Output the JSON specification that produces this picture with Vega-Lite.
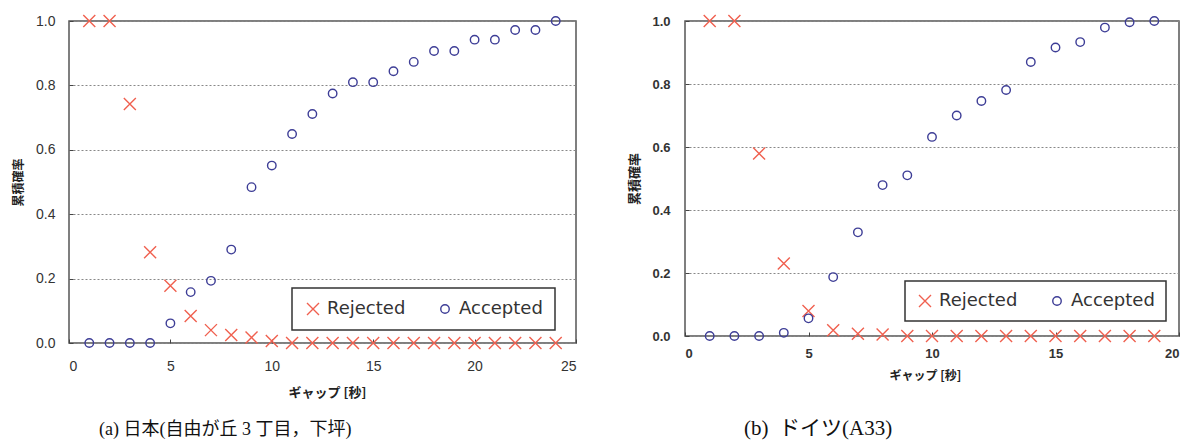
{
  "$schema": "https://vega.github.io/schema/vega-lite/v6.json",
  "padding": {"left": 11, "top": 11, "right": 0, "bottom": 0},
  "background": "white",
  "spacing": 50,
  "datasets": {
    "japan": [
      {"gap": 1, "prob": 1.0, "type": "Rejected"},
      {"gap": 2, "prob": 1.0, "type": "Rejected"},
      {"gap": 3, "prob": 0.742, "type": "Rejected"},
      {"gap": 4, "prob": 0.282, "type": "Rejected"},
      {"gap": 5, "prob": 0.178, "type": "Rejected"},
      {"gap": 6, "prob": 0.084, "type": "Rejected"},
      {"gap": 7, "prob": 0.040, "type": "Rejected"},
      {"gap": 8, "prob": 0.025, "type": "Rejected"},
      {"gap": 9, "prob": 0.017, "type": "Rejected"},
      {"gap": 10, "prob": 0.006, "type": "Rejected"},
      {"gap": 11, "prob": 0, "type": "Rejected"},
      {"gap": 12, "prob": 0, "type": "Rejected"},
      {"gap": 13, "prob": 0, "type": "Rejected"},
      {"gap": 14, "prob": 0, "type": "Rejected"},
      {"gap": 15, "prob": 0, "type": "Rejected"},
      {"gap": 16, "prob": 0, "type": "Rejected"},
      {"gap": 17, "prob": 0, "type": "Rejected"},
      {"gap": 18, "prob": 0, "type": "Rejected"},
      {"gap": 19, "prob": 0, "type": "Rejected"},
      {"gap": 20, "prob": 0, "type": "Rejected"},
      {"gap": 21, "prob": 0, "type": "Rejected"},
      {"gap": 22, "prob": 0, "type": "Rejected"},
      {"gap": 23, "prob": 0, "type": "Rejected"},
      {"gap": 24, "prob": 0, "type": "Rejected"},
      {"gap": 1, "prob": 0, "type": "Accepted"},
      {"gap": 2, "prob": 0, "type": "Accepted"},
      {"gap": 3, "prob": 0, "type": "Accepted"},
      {"gap": 4, "prob": 0, "type": "Accepted"},
      {"gap": 5, "prob": 0.061, "type": "Accepted"},
      {"gap": 6, "prob": 0.158, "type": "Accepted"},
      {"gap": 7, "prob": 0.193, "type": "Accepted"},
      {"gap": 8, "prob": 0.290, "type": "Accepted"},
      {"gap": 9, "prob": 0.484, "type": "Accepted"},
      {"gap": 10, "prob": 0.551, "type": "Accepted"},
      {"gap": 11, "prob": 0.649, "type": "Accepted"},
      {"gap": 12, "prob": 0.711, "type": "Accepted"},
      {"gap": 13, "prob": 0.775, "type": "Accepted"},
      {"gap": 14, "prob": 0.810, "type": "Accepted"},
      {"gap": 15, "prob": 0.810, "type": "Accepted"},
      {"gap": 16, "prob": 0.844, "type": "Accepted"},
      {"gap": 17, "prob": 0.873, "type": "Accepted"},
      {"gap": 18, "prob": 0.907, "type": "Accepted"},
      {"gap": 19, "prob": 0.907, "type": "Accepted"},
      {"gap": 20, "prob": 0.942, "type": "Accepted"},
      {"gap": 21, "prob": 0.942, "type": "Accepted"},
      {"gap": 22, "prob": 0.972, "type": "Accepted"},
      {"gap": 23, "prob": 0.972, "type": "Accepted"},
      {"gap": 24, "prob": 1.0, "type": "Accepted"}
    ],
    "germany": [
      {"gap": 1, "prob": 1.0, "type": "Rejected"},
      {"gap": 2, "prob": 1.0, "type": "Rejected"},
      {"gap": 3, "prob": 0.579, "type": "Rejected"},
      {"gap": 4, "prob": 0.230, "type": "Rejected"},
      {"gap": 5, "prob": 0.079, "type": "Rejected"},
      {"gap": 6, "prob": 0.018, "type": "Rejected"},
      {"gap": 7, "prob": 0.007, "type": "Rejected"},
      {"gap": 8, "prob": 0.005, "type": "Rejected"},
      {"gap": 9, "prob": 0, "type": "Rejected"},
      {"gap": 10, "prob": 0, "type": "Rejected"},
      {"gap": 11, "prob": 0, "type": "Rejected"},
      {"gap": 12, "prob": 0, "type": "Rejected"},
      {"gap": 13, "prob": 0, "type": "Rejected"},
      {"gap": 14, "prob": 0, "type": "Rejected"},
      {"gap": 15, "prob": 0, "type": "Rejected"},
      {"gap": 16, "prob": 0, "type": "Rejected"},
      {"gap": 17, "prob": 0, "type": "Rejected"},
      {"gap": 18, "prob": 0, "type": "Rejected"},
      {"gap": 19, "prob": 0, "type": "Rejected"},
      {"gap": 1, "prob": 0, "type": "Accepted"},
      {"gap": 2, "prob": 0, "type": "Accepted"},
      {"gap": 3, "prob": 0, "type": "Accepted"},
      {"gap": 4, "prob": 0.010, "type": "Accepted"},
      {"gap": 5, "prob": 0.056, "type": "Accepted"},
      {"gap": 6, "prob": 0.187, "type": "Accepted"},
      {"gap": 7, "prob": 0.329, "type": "Accepted"},
      {"gap": 8, "prob": 0.479, "type": "Accepted"},
      {"gap": 9, "prob": 0.510, "type": "Accepted"},
      {"gap": 10, "prob": 0.632, "type": "Accepted"},
      {"gap": 11, "prob": 0.700, "type": "Accepted"},
      {"gap": 12, "prob": 0.746, "type": "Accepted"},
      {"gap": 13, "prob": 0.781, "type": "Accepted"},
      {"gap": 14, "prob": 0.870, "type": "Accepted"},
      {"gap": 15, "prob": 0.916, "type": "Accepted"},
      {"gap": 16, "prob": 0.933, "type": "Accepted"},
      {"gap": 17, "prob": 0.979, "type": "Accepted"},
      {"gap": 18, "prob": 0.996, "type": "Accepted"},
      {"gap": 19, "prob": 1.0, "type": "Accepted"}
    ]
  },
  "hconcat": [
    {
      "width": 507,
      "height": 322,
      "data": {"name": "japan"},
      "title": {"text": "(a)  日本(自由が丘 3 丁目，下坪)", "orient": "bottom", "anchor": "start", "frame": "group", "dx": 30, "offset": 22, "font": "Liberation Serif, Noto Sans CJK JP", "fontSize": 18, "fontWeight": "normal", "color": "#111"},
      "mark": {"type": "point", "filled": false, "strokeWidth": 1.4, "opacity": 1},
      "encoding": {
        "x": {"field": "gap", "type": "quantitative", "scale": {"domain": [0, 25], "nice": false},
              "axis": {"values": [0, 5, 10, 15, 20, 25], "title": "ギャップ [秒]", "titleX": 258, "titlePadding": 13, "titleFontSize": 13, "labelFontSize": 14, "labelPadding": 20, "grid": false}},
        "y": {"field": "prob", "type": "quantitative", "scale": {"domain": [0, 1], "nice": false},
              "axis": {"values": [0, 0.2, 0.4, 0.6, 0.8, 1.0], "format": ".1f", "title": "累積確率", "titleFontSize": 12, "labelFontSize": 14, "labelPadding": 18, "titlePadding": 10}},
        "color": {"field": "type", "type": "nominal", "scale": {"domain": ["Rejected", "Accepted"], "range": ["#f0604f", "#3d3d96"]},
                  "legend": {"orient": "none", "legendX": 223, "legendY": 267, "direction": "horizontal", "title": null, "columnPadding": 30, "padding": 12,
                             "encode": {"symbols": {"update": {"size": {"signal": "datum.value === 'Accepted' ? 25 : 144"}}}}}},
        "shape": {"field": "type", "type": "nominal", "scale": {"domain": ["Rejected", "Accepted"], "range": ["M-1,-1L1,1M1,-1L-1,1", "circle"]}},
        "size": {"field": "type", "type": "nominal", "scale": {"domain": ["Rejected", "Accepted"], "range": [144, 72]}, "legend": null}
      }
    },
    {
      "width": 494,
      "height": 315,
      "data": {"name": "germany"},
      "title": {"text": "(b)\u00a0\u00a0ドイツ(A33)", "orient": "bottom", "anchor": "start", "frame": "group", "dx": 59, "offset": 37, "font": "Liberation Serif, Noto Sans CJK JP", "fontSize": 21, "fontWeight": "normal", "color": "#111"},
      "mark": {"type": "point", "filled": false, "strokeWidth": 1.4, "opacity": 1},
      "encoding": {
        "x": {"field": "gap", "type": "quantitative", "scale": {"domain": [0, 20], "nice": false},
              "axis": {"values": [0, 5, 10, 15, 20], "title": "ギャップ [秒]", "titleX": 240, "titlePadding": 10, "titleFontSize": 12, "labelFontSize": 13, "labelFontWeight": "bold", "labelPadding": 15, "grid": false}},
        "y": {"field": "prob", "type": "quantitative", "scale": {"domain": [0, 1], "nice": false},
              "axis": {"values": [0, 0.2, 0.4, 0.6, 0.8, 1.0], "format": ".1f", "title": "累積確率", "titleFontSize": 13, "labelFontSize": 13, "labelFontWeight": "bold", "labelPadding": 19, "titlePadding": 10}},
        "color": {"field": "type", "type": "nominal", "scale": {"domain": ["Rejected", "Accepted"], "range": ["#f0604f", "#3d3d96"]},
                  "legend": {"orient": "none", "legendX": 220, "legendY": 260, "direction": "horizontal", "title": null, "columnPadding": 30, "padding": 11,
                             "encode": {"symbols": {"update": {"size": {"signal": "datum.value === 'Accepted' ? 25 : 144"}}}}}},
        "shape": {"field": "type", "type": "nominal", "scale": {"domain": ["Rejected", "Accepted"], "range": ["M-1,-1L1,1M1,-1L-1,1", "circle"]}},
        "size": {"field": "type", "type": "nominal", "scale": {"domain": ["Rejected", "Accepted"], "range": [144, 72]}, "legend": null}
      }
    }
  ],
  "resolve": {
    "scale": {"x": "independent", "y": "independent", "color": "independent", "shape": "independent", "size": "independent"},
    "legend": {"color": "independent", "shape": "independent"}
  },
  "config": {
    "view": {"stroke": "#555", "strokeWidth": 1.5},
    "axis": {
      "domain": false,
      "ticks": true,
      "tickSize": -4,
      "tickColor": "#444",
      "labelFont": "Liberation Sans",
      "labelColor": "#333",
      "titleFont": "Noto Sans CJK JP",
      "titleFontWeight": "bold",
      "titleColor": "#222",
      "gridColor": "#888",
      "gridDash": [2, 2],
      "gridWidth": 1
    },
    "axisX": {"titleAlign": "center"},
    "legend": {
      "strokeColor": "#333",
      "strokeWidth": 1.5,
      "fillColor": "white",
      "cornerRadius": 0,
      "labelFont": "DejaVu Sans",
      "labelFontSize": 18,
      "labelColor": "#333",
      "labelOffset": 5,
      "symbolStrokeWidth": 1.4,
      "symbolSize": 144
    }
  }
}
